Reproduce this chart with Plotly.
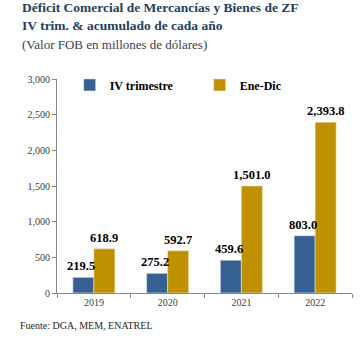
import plotly.graph_objects as go

years = ["2019", "2020", "2021", "2022"]
iv_trimestre = [219.5, 275.2, 459.6, 803.0]
ene_dic = [618.9, 592.7, 1501.0, 2393.8]
y_ticks = [0, 500, 1000, 1500, 2000, 2500, 3000]

FONT = "Liberation Serif, Times New Roman, serif"
NAVY = "#243F60"
BLUE = "#376092"
GOLD = "#BF9000"

fig = go.Figure()
fig.add_trace(go.Bar(
    x=years, y=iv_trimestre, name="IV trimestre",
    marker=dict(color=BLUE, line=dict(color="#DCE6F2", width=0.6)),
))
fig.add_trace(go.Bar(
    x=years, y=ene_dic, name="Ene-Dic",
    marker=dict(color=GOLD, line=dict(color="#F2E6BF", width=0.6)),
))

# value labels (annotations so they are drawn above all bars)
BAR_PX = 295 / 4 * (1 - 0.43) / 2
for series, shift in ((iv_trimestre, -BAR_PX / 2 - 2), (ene_dic, BAR_PX / 2)):
    for i, v in enumerate(series):
        fig.add_annotation(
            x=i, y=v, xref="x", yref="y", xshift=shift, yshift=2,
            yanchor="bottom", xanchor="center", showarrow=False,
            text=f"{v:,.1f}",
            font=dict(family=FONT, size=12.5, color="#000000", weight="bold"),
        )

fig.update_layout(
    width=362, height=349,
    margin=dict(l=57, r=10, t=79, b=56),
    paper_bgcolor="white", plot_bgcolor="white",
    barmode="group", bargap=0.43, bargroupgap=0,
    font=dict(family=FONT, size=10, color="#404040"),
    showlegend=True,
    legend=dict(
        orientation="h", x=0.043, y=1.04, xanchor="left", yanchor="top",
        font=dict(family=FONT, size=12, color="#000000", weight="bold"),
        bgcolor="rgba(0,0,0,0)", entrywidth=85, entrywidthmode="pixels",
        itemwidth=30, tracegroupgap=0,
    ),
    xaxis=dict(
        type="category", range=[-0.5, len(years) - 0.5], autorange=False,
        showline=True, linecolor="#868686", linewidth=1,
        ticks="outside", ticklen=4, tickcolor="#868686",
        tickson="boundaries", showgrid=False,
        tickfont=dict(family=FONT, size=10, color="#404040"),
    ),
    yaxis=dict(
        range=[0, 3000], autorange=False, tickvals=y_ticks, tickformat=",d",
        showline=True, linecolor="#868686", linewidth=1,
        ticks="outside", ticklen=4, tickcolor="#868686",
        showgrid=False, zeroline=False,
        tickfont=dict(family=FONT, size=10, color="#404040"),
    ),
)

fig.add_annotation(
    xref="paper", yref="paper", x=-0.125, y=1.0, yshift=72,
    xanchor="left", yanchor="middle", showarrow=False, align="left",
    text="<b>Déficit Comercial de Mercancías y Bienes de ZF</b>",
    font=dict(family=FONT, size=13.5, color=NAVY),
)
fig.add_annotation(
    xref="paper", yref="paper", x=-0.125, y=1.0, yshift=54,
    xanchor="left", yanchor="middle", showarrow=False, align="left",
    text="<b>IV trim. & acumulado de cada año</b>",
    font=dict(family=FONT, size=13.5, color=NAVY),
)
fig.add_annotation(
    xref="paper", yref="paper", x=-0.125, y=1.0, yshift=35,
    xanchor="left", yanchor="middle", showarrow=False, align="left",
    text="(Valor FOB en millones de dólares)",
    font=dict(family=FONT, size=13, color="#333F50"),
)
fig.add_annotation(
    xref="paper", yref="paper", x=-0.132, y=0, yshift=-32,
    xanchor="left", yanchor="middle", showarrow=False, align="left",
    text="Fuente: DGA, MEM, ENATREL",
    font=dict(family=FONT, size=10, color="#262626"),
)

fig.write_html("out.html")
